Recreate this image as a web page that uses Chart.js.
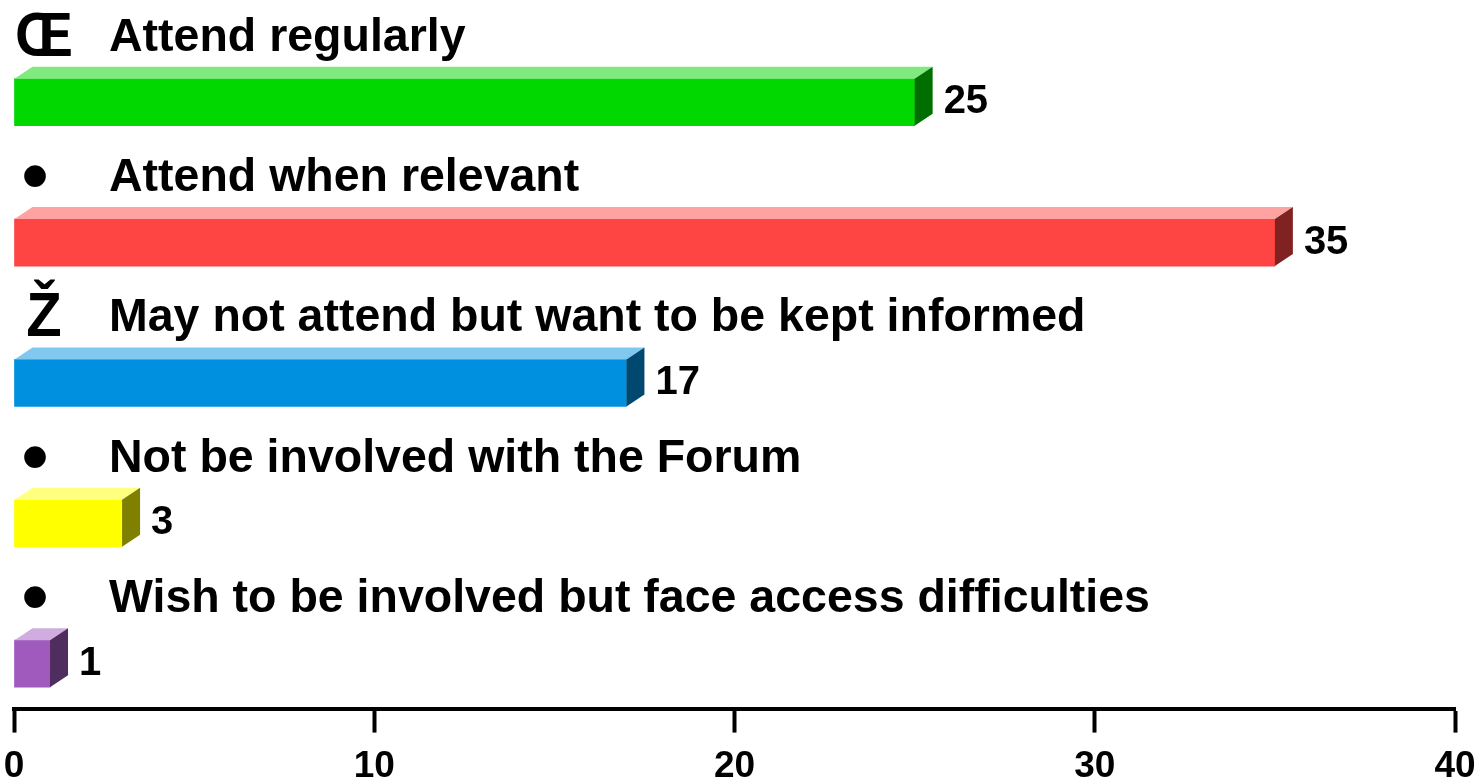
<!DOCTYPE html>
<html>
<head>
<meta charset="utf-8">
<script src="https://cdn.jsdelivr.net/npm/chart.js@4.4.1/dist/chart.umd.min.js"></script>
<style>
    html, body { margin: 0; padding: 0; background: #fff; }
    #wrap { width: 1483px; height: 784px; position: relative; }
</style>
</head>
<body>
<div id="wrap"><canvas id="forumChart"></canvas></div>
<script>
const categories = [
    'Attend regularly',
    'Attend when relevant',
    'May not attend but want to be kept informed',
    'Not be involved with the Forum',
    'Wish to be involved but face access difficulties'
];
const bullets = ['Œ', '•', 'Ž', '•', '•'];
const counts = [25, 35, 17, 3, 1];
const xTicks = [0, 10, 20, 30, 40];

const frontColors = ['#00d800', '#ff4444', '#0090e0', '#ffff00', '#a05abe'];
const topColors   = ['#80ea80', '#ffa2a2', '#80c8f0', '#ffff80', '#d0acdf'];
const sideColors  = ['#006f00', '#802222', '#004870', '#808000', '#502d5f'];

const FONT = "'Liberation Sans', Arial, Helvetica, sans-serif";

// draws the 3d top/side faces, the category captions and the value labels
const bar3d = {
    id: 'bar3d',
    afterDatasetsDraw(chart) {
        const ctx = chart.ctx;
        const meta = chart.getDatasetMeta(0);
        const dx = 18, dy = 12;
        ctx.save();
        meta.data.forEach((bar, i) => {
            const top = bar.y - bar.height / 2;
            const bottom = bar.y + bar.height / 2;
            const left = bar.base;
            const right = bar.x;

            ctx.fillStyle = topColors[i];
            ctx.beginPath();
            ctx.moveTo(left, top);
            ctx.lineTo(left + dx, top - dy);
            ctx.lineTo(right + dx, top - dy);
            ctx.lineTo(right, top);
            ctx.closePath();
            ctx.fill();

            ctx.fillStyle = sideColors[i];
            ctx.beginPath();
            ctx.moveTo(right, top);
            ctx.lineTo(right + dx, top - dy);
            ctx.lineTo(right + dx, bottom - dy);
            ctx.lineTo(right, bottom);
            ctx.closePath();
            ctx.fill();

            ctx.fillStyle = '#000';
            ctx.textBaseline = 'middle';
            ctx.textAlign = 'left';
            ctx.font = 'bold 40px ' + FONT;
            ctx.fillText(String(counts[i]), right + dx + 11, bar.y);

            const baseline = top - 28;
            ctx.textBaseline = 'alphabetic';
            ctx.font = 'bold 46.5px ' + FONT;
            ctx.fillText(categories[i], 109, baseline);

            ctx.textAlign = 'center';
            if (bullets[i] === '•') {
                ctx.font = '80px ' + FONT;
                ctx.fillText(bullets[i], 35, baseline + 12);
            } else {
                ctx.save();
                ctx.translate(44, baseline + 5);
                ctx.scale(1, 1.1);
                ctx.font = 'bold 58px ' + FONT;
                ctx.fillText(bullets[i], 0, 0);
                ctx.restore();
            }
        });
        ctx.restore();
    }
};

document.addEventListener('DOMContentLoaded', () => {
    const canvas = document.getElementById('forumChart');
    const ctx = canvas.getContext('2d');

    new Chart(ctx, {
        type: 'bar',
        data: {
            datasets: [{
                data: counts.map((v, i) => ({ x: v, y: i })),
                backgroundColor: frontColors,
                borderWidth: 0,
                barThickness: 47
            }]
        },
        options: {
            indexAxis: 'y',
            responsive: true,
            maintainAspectRatio: false,
            animation: false,
            layout: {
                autoPadding: false,
                padding: { left: 14, right: 28, top: 0, bottom: -17 }
            },
            plugins: {
                legend: { display: false },
                tooltip: { enabled: false }
            },
            scales: {
                y: {
                    type: 'linear',
                    reverse: true,
                    offset: false,
                    min: -0.728,
                    max: 4.32,
                    display: false
                },
                x: {
                    type: 'linear',
                    min: xTicks[0],
                    max: xTicks[xTicks.length - 1],
                    afterBuildTicks: (scale) => {
                        scale.ticks = xTicks.map(v => ({ value: v }));
                    },
                    afterFit: (scale) => {
                        // tick labels may hang over the edges, don't shrink the plot for them
                        scale.paddingLeft = 0;
                        scale.paddingRight = 0;
                    },
                    ticks: {
                        color: '#000',
                        padding: 12,
                        font: { family: FONT, size: 37, weight: 'bold' }
                    },
                    grid: {
                        drawOnChartArea: false,
                        tickLength: 24,
                        tickWidth: 4,
                        color: '#000'
                    },
                    border: { display: true, color: '#000', width: 4 }
                }
            }
        },
        plugins: [bar3d]
    });
});
</script>
</body>
</html>
